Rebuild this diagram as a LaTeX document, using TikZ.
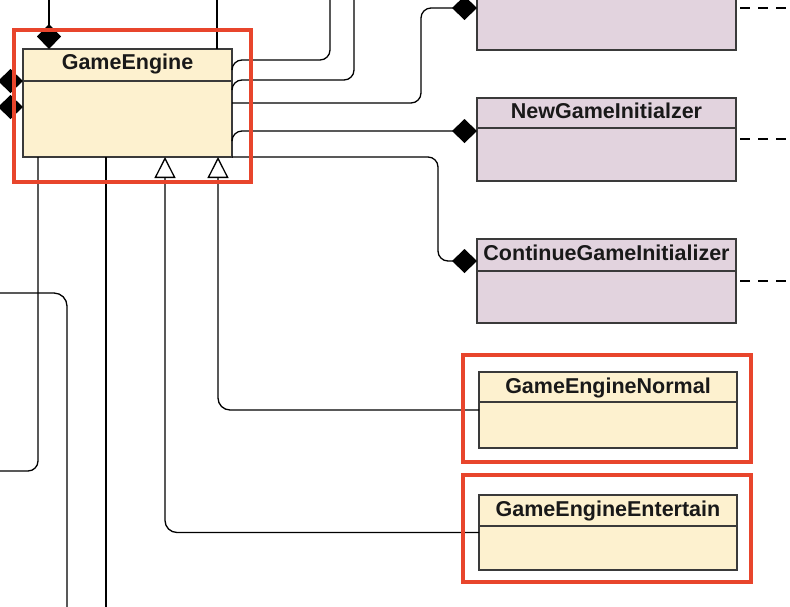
\documentclass[tikz,border=0pt]{standalone}
\usepackage{fontspec}
\setmainfont{Liberation Sans}
\usetikzlibrary{arrows.meta,calc}
\definecolor{yel}{HTML}{FDF1CF}
\definecolor{pnk}{HTML}{E2D3DE}
\definecolor{bord}{HTML}{3A3A3A}
\definecolor{hl}{HTML}{E8452C}
\begin{document}
\begin{tikzpicture}[x=1pt,y=-1pt,
  cls/.style={draw=bord, line width=1.3pt, inner sep=0pt, outer sep=0pt, anchor=north west},
  div/.style={draw=bord, line width=1.3pt},
  ttl/.style={font=\fontsize{21.5}{26}\selectfont\bfseries, inner sep=0pt, anchor=base, text=black!90},
  conn/.style={draw=black, line width=1.3pt, rounded corners=10pt},
  comp/.style={-{Diamond[length=25pt,width=24pt]}},
  inh/.style={-{Triangle[open,length=21pt,width=21pt]}},
  dep/.style={draw=black, line width=1.2pt, dash pattern=on 10pt off 8pt},
  hilite/.style={draw=hl, line width=4pt}
]
\useasboundingbox (0,0) rectangle (790,606);
\clip (0,0) rectangle (790,606);

% class boxes
\node[cls, fill=pnk, minimum width=259pt, minimum height=110pt] (init0) at (477,-60) {};
\node[cls, fill=yel, minimum width=209pt, minimum height=108pt] (ge) at (23,49) {};
\node[cls, fill=pnk, minimum width=259pt, minimum height=83pt] (ngi) at (477,98) {};
\node[cls, fill=pnk, minimum width=259pt, minimum height=84pt] (cgi) at (477,239) {};
\node[cls, fill=yel, minimum width=258pt, minimum height=76pt] (gen) at (479,372) {};
\node[cls, fill=yel, minimum width=258pt, minimum height=75pt] (gee) at (479,495) {};

% dividers
\draw[div] ($(ge.north west)+(0,32)$) -- ($(ge.north east)+(0,32)$);
\draw[div] ($(ngi.north west)+(0,30)$) -- ($(ngi.north east)+(0,30)$);
\draw[div] ($(cgi.north west)+(0,32)$) -- ($(cgi.north east)+(0,32)$);
\draw[div] ($(gen.north west)+(0,30)$) -- ($(gen.north east)+(0,30)$);
\draw[div] ($(gee.north west)+(0,31)$) -- ($(gee.north east)+(0,31)$);

% titles
\node[ttl] (ge-t) at ($(ge.north)+(0,20)$) {GameEngine};
\node[ttl] (ngi-t) at ($(ngi.north)+(0,20)$) {NewGameInitialzer};
\node[ttl] (cgi-t) at ($(cgi.north)+(0,21)$) {ContinueGameInitializer};
\node[ttl] (gen-t) at ($(gen.north)+(0,21)$) {GameEngineNormal};
\node[ttl] (gee-t) at ($(gee.north)+(0,21)$) {GameEngineEntertain};

% free ends
\coordinate (top1) at (330,-5);
\coordinate (top2) at (354,-5);
\coordinate (top3) at (217,-5);
\coordinate (tp) at (49,-5);
\coordinate (l1) at (-5,81);
\coordinate (l2) at (-5,107);
\coordinate (d0) at (0,8);
\coordinate (lft1) at (-5,471);
\coordinate (lft2) at (-5,293);
\coordinate (bot1) at (67,615);
\coordinate (bot2) at (106,615);

% connectors at the top / left of GameEngine
\draw[conn,comp] (tp) -- (tp |- ge.north);
\draw[conn,comp] (l1) -- (l1 -| ge.west);
\draw[conn,comp] (l2) -- (l2 -| ge.west);
\draw[conn] (top3 |- ge.north) -- (top3);

% connectors on the right of GameEngine
\draw[conn] ($(ge.north east)+(0,21)$) -- ($(ge.north east)+(0,11)$) -| (top1);
\draw[conn] ($(ge.north east)+(0,41)$) -- ($(ge.north east)+(0,31)$) -| (top2);
\draw[conn,comp] ($(ge.north east)+(0,54)$) -- ++(189,0) |- (init0.west |- d0);
\draw[conn,comp] ($(ge.north east)+(0,91)$) -- ($(ge.north east)+(0,82)$) -- ($(ngi.north west)+(0,33)$);
\draw[conn,comp] (ge.south east) -- ++(206,0) |- ($(cgi.north west)+(0,22)$);

% dependencies leaving to the right
\draw[dep] ($(init0.east |- d0)+(4,0)$) -- ++(60,0);
\draw[dep] ($(ngi.north east)+(4,41)$) -- ++(60,0);
\draw[dep] ($(cgi.north east)+(4,42)$) -- ++(60,0);

% connectors below GameEngine
\draw[conn] ($(ge.south west)+(15,0)$) |- (lft1);
\draw[conn, rounded corners=13pt] (lft2) -| (bot1);
\draw[conn] ($(ge.south west)+(83,0)$) -- (bot2 -| {$(ge.south west)+(83,0)$});

% inheritance
\draw[conn,inh,rounded corners=12pt] (gen.west) -| ($(ge.south west)+(195,0)$);
\draw[conn,inh,rounded corners=12pt] (gee.west) -| ($(ge.south west)+(142,0)$);

% highlight frames
\draw[hilite] ($(ge.north west)+(-9.3,-19.3)$) rectangle ($(ge.south east)+(19,25)$);
\draw[hilite] ($(gen.north west)+(-16,-17)$) rectangle ($(gen.south east)+(13.5,14)$);
\draw[hilite] ($(gee.north west)+(-16,-20)$) rectangle ($(gee.south east)+(13.5,12)$);
\end{tikzpicture}
\end{document}
